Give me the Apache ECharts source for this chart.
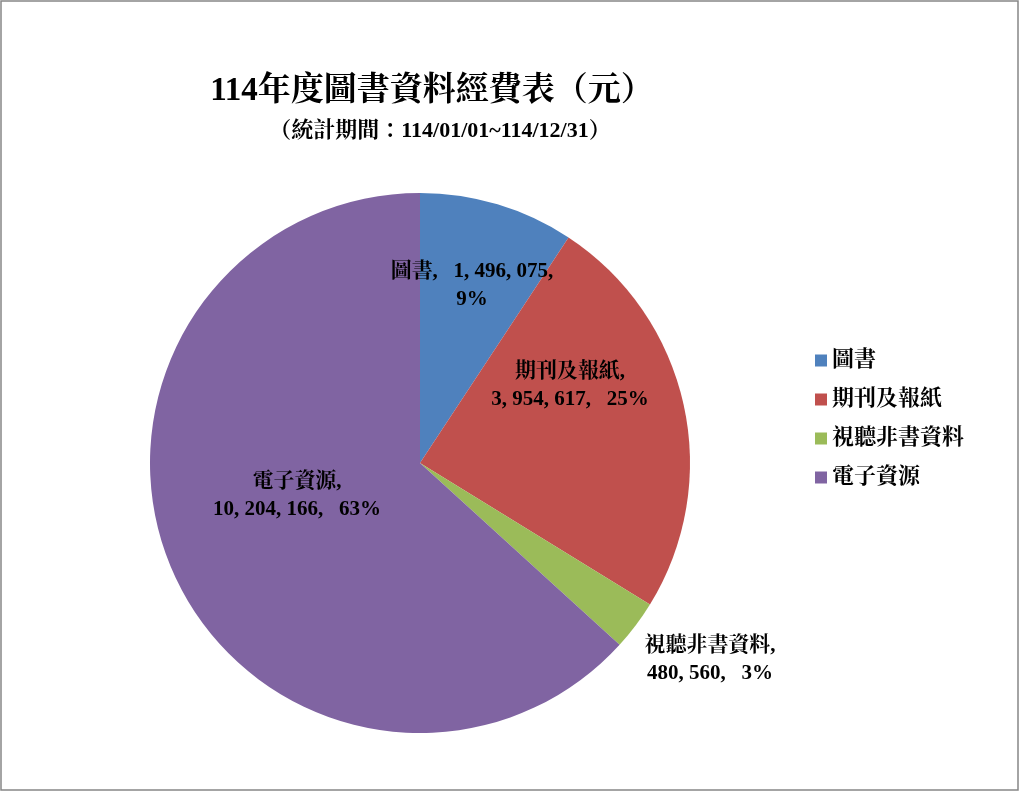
<!DOCTYPE html>
<html>
<head>
<meta charset="utf-8">
<script src="https://cdn.jsdelivr.net/npm/echarts@6/dist/echarts.min.js"></script>
<style>
  html, body { margin: 0; padding: 0; background: #fff; }
  #main { width: 1020px; height: 792px; }
</style>
</head>
<body>
<div id="main"></div>
<script>
// 資料
var categories = ['圖書', '期刊及報紙', '視聽非書資料', '電子資源'];
var amounts = [1496075, 3954617, 480560, 10204166];
var percentLabels = ['9%', '25%', '3%', '63%'];
var colors = ['#4F81BD', '#C0504D', '#9BBB59', '#8064A2'];

// 標籤位置（相對圓心的偏移）
var labelOffsets = [[52, -177], [150, -77], [290, 197], [-123, 33]];
var pieCenter = [420, 463];

var font = "'Liberation Serif', 'Noto Serif CJK TC', 'Noto Sans CJK TC', serif";

// 千分位，逗號後留半形空白（仿原圖字距）
function fmt(n) {
    return String(n).replace(/\B(?=(\d{3})+(?!\d))/g, ', ');
}

var chart = echarts.init(document.getElementById('main'));
chart.setOption({
    backgroundColor: '#fff',
    color: colors,
    graphic: [{
        type: 'rect',
        shape: { x: 1, y: 1, width: 1017, height: 789 },
        style: { fill: 'none', stroke: '#868686', lineWidth: 1.5 }
    }],
    title: [{
        text: '114年度圖書資料經費表（元）',
        left: 427,
        top: 70,
        textAlign: 'center',
        textStyle: { fontFamily: font, fontSize: 33, fontWeight: 'bold', color: '#000' }
    }, {
        text: '（統計期間：114/01/01~114/12/31）',
        left: 435,
        top: 115,
        textAlign: 'center',
        textStyle: { fontFamily: font, fontSize: 22, fontWeight: 'bold', color: '#000' }
    }],
    legend: {
        orient: 'vertical',
        left: 810,
        top: 343,
        icon: 'rect',
        itemWidth: 12,
        itemHeight: 12,
        itemGap: 14,
        data: categories,
        textStyle: { fontFamily: font, fontSize: 22, fontWeight: 'bold', color: '#000', lineHeight: 25 }
    },
    series: [{
        type: 'pie',
        center: pieCenter,
        radius: 270,
        startAngle: 90,
        clockwise: true,
        silent: true,
        itemStyle: { borderWidth: 0 },
        label: {
            show: true,
            position: 'inside',
            fontFamily: font,
            fontSize: 21,
            fontWeight: 'bold',
            color: '#000',
            lineHeight: 28,
            align: 'center',
            formatter: function (p) {
                var name = p.name, val = fmt(p.value), pc = percentLabels[p.dataIndex];
                if (p.dataIndex === 0) return name + ',   ' + val + ',\n' + pc;
                return name + ',\n' + val + ',   ' + pc;
            }
        },
        labelLine: { show: false },
        labelLayout: function (params) {
            var o = labelOffsets[params.dataIndex];
            return {
                x: pieCenter[0] + o[0],
                y: pieCenter[1] + o[1],
                align: 'center',
                verticalAlign: 'middle'
            };
        },
        data: categories.map(function (c, i) {
            return { name: c, value: amounts[i] };
        })
    }]
});
</script>
</body>
</html>
